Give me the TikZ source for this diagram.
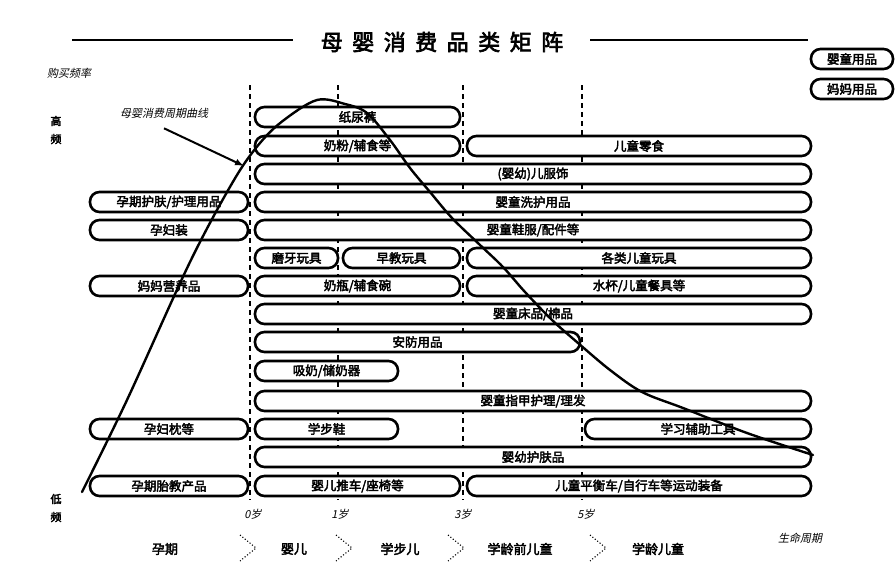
\documentclass[tikz,border=0pt]{standalone}
\usepackage{fontspec}
\setmainfont{Noto Sans CJK SC}[AutoFakeBold=3, AutoFakeSlant=0.2]
\usetikzlibrary{arrows.meta}
\tikzset{
  pill/.style={draw, line width=2.6pt, rounded corners=9.5pt, fill=white, minimum height=20pt, inner sep=0pt,
    font=\bfseries\fontsize{12.5}{12.5}\selectfont},
  vguide/.style={line width=1.3pt, dash pattern=on 5pt off 4pt},
  lbl/.style={inner sep=0pt, font=\bfseries\fontsize{11}{11}\selectfont},
  ilbl/.style={inner sep=0pt, font=\itshape\fontsize{11}{11}\selectfont},
  stage/.style={inner sep=0pt, font=\bfseries\fontsize{13}{13}\selectfont},
  sepchev/.style={dotted, line width=1.1pt},
  lifecurve/.style={line width=2.4pt, line cap=round, line join=round}
}
\newcommand\mypill[5]{\node[pill, minimum width={(#3-#2)*1pt}] (#1) at ({(#2+#3)/2},#4) {#5};}
\begin{document}
\begin{tikzpicture}[x=1pt,y=-1pt]
\useasboundingbox[fill=white] (0,0) rectangle (896,578);
% title
\node[inner sep=0pt, font=\bfseries\fontsize{22}{22}\selectfont] (title) at (442,42)
  {母\hspace{9.5pt}婴\hspace{9.5pt}消\hspace{9.5pt}费\hspace{9.5pt}品\hspace{9.5pt}类\hspace{9.5pt}矩\hspace{9.5pt}阵};
\draw[line width=2.5pt] (72,40) -- (293,40);
\draw[line width=2.5pt] (590,40) -- (808,40);
% axis texts
\node[ilbl] (freq) at (69,73) {购买频率};
\node[lbl] (hi1) at (56,121) {高};
\node[lbl] (hi2) at (56,139) {频};
\node[lbl] (lo1) at (56,499) {低};
\node[lbl] (lo2) at (56,517) {频};
\node[ilbl] (life) at (800,538) {生命周期};
% vertical guides
\foreach \x in {250,338,463,582} \draw[vguide] (\x,85) -- (\x,500);
% age labels
\node[ilbl] (a0) at (253,514) {0岁};
\node[ilbl] (a1) at (340,514) {1岁};
\node[ilbl] (a3) at (463,514) {3岁};
\node[ilbl] (a5) at (586,514) {5岁};
% stages
\node[stage] (s0) at (165,549) {孕期};
\node[stage] (s1) at (294,549) {婴儿};
\node[stage] (s2) at (400,549) {学步儿};
\node[stage] (s3) at (520,549) {学龄前儿童};
\node[stage] (s4) at (658,549) {学龄儿童};
\foreach \x in {240,336,448,590} \draw[sepchev] (\x,535) -- (\x+16,548) -- (\x,561);
% legend
\mypill{lga}{811}{893}{59}{婴童用品}
\mypill{lgb}{811}{893}{89}{妈妈用品}
% boxes
\mypill{zhiniaoku}{255}{460}{117}{纸尿裤}
\mypill{naifen}{255}{460}{146}{奶粉/辅食等}
\mypill{lingshi}{467}{811}{146}{儿童零食}
\mypill{fushi}{255}{811}{174}{(婴幼)儿服饰}
\mypill{yunhufu}{90}{248}{202}{孕期护肤/护理用品}
\mypill{xihu}{255}{811}{202}{婴童洗护用品}
\mypill{yunfu}{90}{248}{230}{孕妇装}
\mypill{xiefu}{255}{811}{230}{婴童鞋服/配件等}
\mypill{moya}{255}{338}{258}{磨牙玩具}
\mypill{zaojiao}{343}{460}{258}{早教玩具}
\mypill{wanju}{467}{811}{258}{各类儿童玩具}
\mypill{yingyang}{90}{248}{286}{妈妈营养品}
\mypill{naiping}{255}{460}{286}{奶瓶/辅食碗}
\mypill{shuibei}{467}{811}{286}{水杯/儿童餐具等}
\mypill{chuangpin}{255}{811}{314}{婴童床品/棉品}
\mypill{anfang}{255}{580}{342}{安防用品}
\mypill{xinai}{255}{398}{371}{吸奶/储奶器}
\mypill{zhijia}{255}{811}{401}{婴童指甲护理/理发}
\mypill{yunzhen}{90}{248}{429}{孕妇枕等}
\mypill{xuebu}{255}{398}{429}{学步鞋}
\mypill{xuexi}{585}{811}{429}{学习辅助工具}
\mypill{hufu}{255}{811}{457}{婴幼护肤品}
\mypill{taijiao}{90}{248}{486}{孕期胎教产品}
\mypill{tuiche}{255}{460}{486}{婴儿推车/座椅等}
\mypill{pingheng}{467}{811}{486}{儿童平衡车/自行车等运动装备}
% curve
\draw[lifecurve] plot[smooth, tension=0.55] coordinates {(82,492) (127,400) (190,262) (234,180) (260,143) (284,120) (317,100) (345,104) (367,113) (390,140) (410,168) (430,192) (452,218) (480,245) (503,267) (525,292) (552,320) (578,343) (610,370) (642,392) (683,408) (747,433) (813,455)};
% curve label and arrow
\node[ilbl] (curvelabel) at (164,113) {母婴消费周期曲线};
\coordinate (arrowend) at (244,166);
\draw[line width=2pt, -{Latex[length=9pt,width=7pt]}] ([yshift=-10pt]curvelabel.south) -- (arrowend);
\end{tikzpicture}
\end{document}
